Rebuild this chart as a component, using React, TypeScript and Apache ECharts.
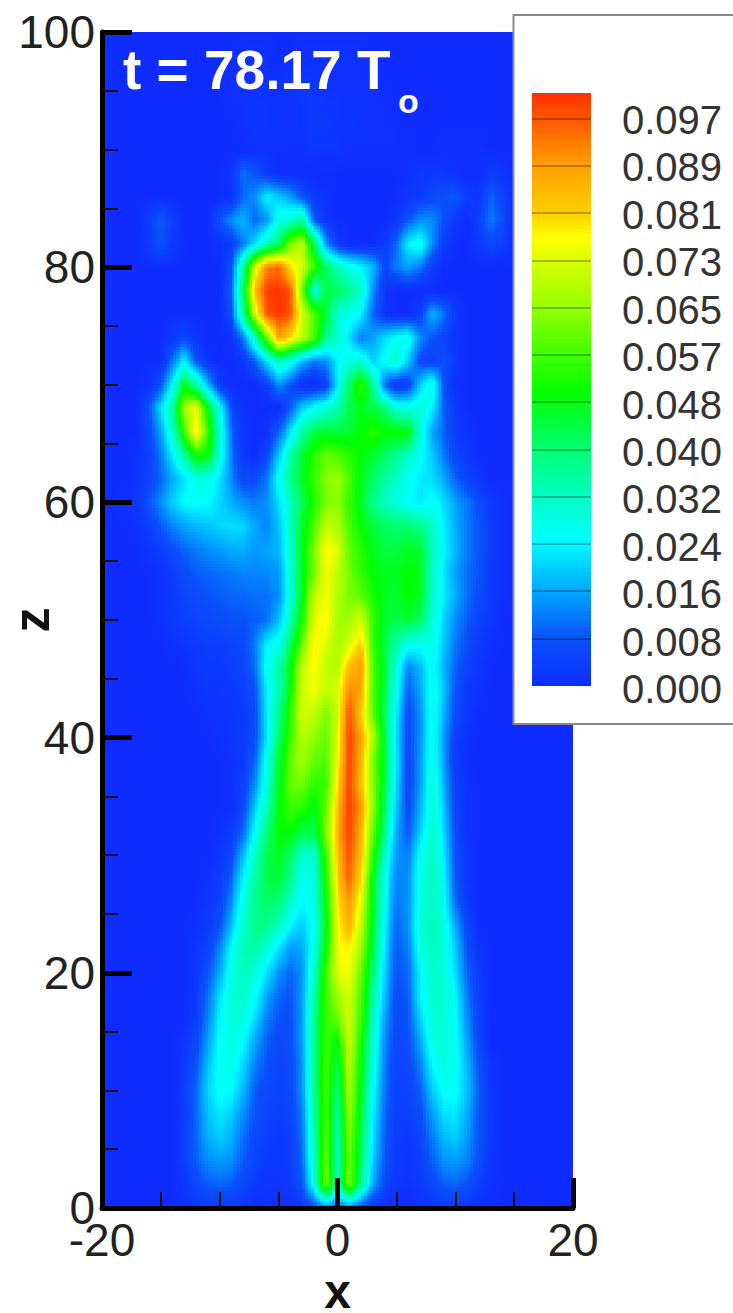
import React, { useEffect, useRef } from "react";
import * as echarts from "echarts";

const FONT = '"Liberation Sans", Arial, sans-serif';

// Vertical grid levels of the field (top to bottom)
const zLevels = [100,98,96,94,92,90,88,86,84,82,80,78,76,74,72,70,68,66,64,62,60,58,56,54,52,50,48,46,44,42,40,38,36,34,32,30,28,26,24,22,20,18,16,14,12,10,8,6,4,2,0];
// x of the first stored value of each row (values step by 1 in x, the rest of the row is 0)
const rowStarts = [-20,-8,-9,-9,-8,-7,-9,-9,-16,-16,-9,-9,-9,-14,-14,-16,-16,-16,-17,-17,-18,-17,-16,-15,-15,-15,-14,-12,-12,-11,-10,-9,-9,-9,-10,-10,-11,-11,-12,-12,-12,-12,-12,-13,-13,-13,-13,-13,-13,-13,-13];
// Field values in thousandths
const fieldRows = [
  [],
  [1,1,1,0,0,1,1,1,1,1,1],
  [1,1,1,1,1,2,2,2,1,1,1,1,1],
  [1,1,2,2,1,1,2,3,2,2,1,1,1,1],
  [1,2,2,1,1,2,3,3,2,2,1,1,1,1],
  [1,1,1,1,1,2,2,2,1,1,1,1,1,1,0,0,1,1,1,1],
  [2,11,8,3,0,0,0,0,0,0,0,0,0,0,0,1,2,3,2,1,0,1,3,2],
  [1,10,14,24,20,16,8,3,1,0,0,0,0,0,0,2,3,6,8,9,4,2,10,6,1],
  [4,9,4,0,0,0,8,14,18,10,15,28,30,36,9,2,0,0,0,0,0,2,8,14,14,8,3,0,5,12,8],
  [3,8,3,0,0,0,1,4,12,22,33,42,62,70,44,15,3,0,0,0,3,10,24,28,14,4,0,0,3,6,4],
  [8,35,72,92,95,80,72,56,42,33,28,24,18,6,12,16,12,4],
  [10,42,85,100,101,98,62,28,44,43,38,32,14,2],
  [8,36,72,98,101,98,72,58,46,30,28,24,10,2,0,0,4,18,12,3],
  [3,6,2,0,0,1,12,32,60,88,80,70,58,38,32,22,12,16,22,26,28,14,8,5,2],
  [12,24,8,1,0,0,2,10,22,34,28,18,12,14,24,28,30,20,26,32,20,6,4,8,3],
  [1,8,26,48,36,18,3,0,0,0,4,14,8,1,0,4,24,42,55,38,10,2,4,20,30,8,1],
  [8,22,38,66,76,48,26,6,1,0,0,0,8,20,26,30,34,44,48,44,40,30,28,30,24,10,3],
  [6,16,32,56,80,56,30,10,2,0,1,10,22,36,44,46,45,46,50,54,50,50,50,30,16,10,4,1],
  [1,4,12,24,36,52,50,28,12,3,0,6,20,34,46,54,60,58,54,50,46,42,38,32,26,20,12,6,3],
  [2,5,10,17,22,28,28,22,13,6,7,12,27,38,46,56,63,66,58,48,42,36,32,27,23,22,17,10,5,2],
  [1,3,8,14,21,25,26,25,21,17,14,12,14,22,32,43,53,62,64,56,47,38,32,29,25,23,26,22,16,12,7,3,1],
  [1,4,9,13,16,18,19,21,22,21,16,13,19,32,46,58,70,68,58,50,45,42,41,41,38,32,24,17,12,8,4,1],
  [2,4,7,10,12,14,15,17,17,15,16,18,30,48,62,78,74,60,54,48,44,45,47,46,34,25,18,12,8,4,1],
  [1,4,7,9,10,11,12,13,13,13,15,30,47,62,76,70,62,55,50,48,48,50,48,32,23,16,11,8,3,1],
  [1,3,5,7,8,9,10,10,11,11,14,29,48,70,76,68,62,60,52,47,46,50,48,32,24,17,11,7,3,1],
  [1,3,4,5,6,7,8,8,9,11,19,33,52,74,78,66,66,72,56,46,44,46,42,30,21,14,9,5,2],
  [1,2,3,4,4,5,6,12,24,27,42,60,78,74,66,72,82,56,44,36,28,27,28,20,12,7,3,1],
  [2,3,3,4,5,11,27,35,48,70,78,70,68,84,90,58,46,30,13,18,27,18,10,5,2],
  [1,2,2,3,4,8,24,34,50,72,76,70,72,92,88,58,44,28,9,16,28,20,8,3,1],
  [1,2,2,3,6,24,38,54,72,70,62,72,98,82,60,42,24,6,14,28,18,7,2],
  [1,2,3,7,23,42,56,68,64,60,74,100,88,68,44,22,6,14,28,16,5,1],
  [1,3,10,28,46,60,66,60,58,76,100,86,62,46,24,5,15,29,16,4],
  [1,4,14,30,48,60,62,54,56,80,100,84,64,44,22,5,15,30,18,5,1],
  [1,6,20,34,50,56,54,48,60,84,100,90,64,42,20,6,17,30,20,6,1],
  [1,3,10,26,40,50,50,44,44,62,86,100,86,60,38,17,8,20,32,22,7,1],
  [2,6,18,32,44,47,42,32,30,56,84,98,84,54,32,15,12,26,33,24,8,2],
  [1,4,10,24,36,44,45,38,27,28,52,82,96,80,48,27,13,14,28,34,26,9,2],
  [2,5,14,28,38,42,40,32,24,28,50,78,90,74,48,26,12,14,28,33,27,11,3],
  [1,3,8,19,31,39,38,32,24,20,26,48,76,86,70,46,24,10,14,30,34,30,17,6],
  [2,5,13,26,34,35,30,22,15,16,28,50,76,78,66,44,22,9,12,28,33,30,20,8,2],
  [3,8,17,29,33,30,22,14,10,14,32,56,74,76,60,40,20,8,10,24,32,30,22,10,3],
  [3,11,22,30,32,26,16,10,8,15,36,56,66,72,58,36,18,7,9,24,31,31,25,12,4],
  [4,13,25,30,29,21,12,8,7,15,38,56,60,72,56,32,15,7,8,20,30,31,26,14,5],
  [2,6,16,26,29,25,16,9,6,7,15,38,56,48,72,52,30,13,6,7,16,28,30,27,16,6],
  [3,8,19,27,27,21,12,8,5,6,14,38,58,42,70,50,28,12,5,6,12,24,29,27,18,8,2],
  [4,10,21,26,25,18,9,6,5,6,14,38,58,38,68,48,26,11,5,5,9,20,26,26,19,9,2],
  [3,10,19,23,20,14,8,5,4,5,12,36,58,34,66,46,24,10,4,4,7,15,22,23,17,8,3],
  [4,10,17,20,17,11,6,4,3,4,11,34,60,32,64,44,22,9,4,3,5,12,18,20,15,8,3],
  [4,9,14,15,14,9,5,3,3,4,10,32,62,30,62,42,20,8,3,2,4,9,14,15,13,7,2],
  [2,6,9,10,9,6,3,2,2,3,8,28,64,30,64,38,16,6,2,1,3,6,9,10,8,4,1],
  [1,2,3,3,3,2,1,1,1,1,2,6,12,8,12,6,2,1,0,0,1,2,3,3,2,1],
];

// Colour legend
const legendLabels = ["0.000","0.008","0.016","0.024","0.032","0.040","0.048","0.057","0.065","0.073","0.081","0.089","0.097"];
const legendLevels = [0,8.1,16.2,24.3,32.4,40.5,48.6,56.7,64.8,72.9,81,89.1,97.2,101.6];
// Colour stops: value (thousandths) and RGB
const stopValues = [0,8,16,25,32,40,50,57,65,73,77,81,89,97,101.6];
const stopColors = [[14,44,255],[10,80,250],[0,165,255],[0,255,255],[0,255,200],[0,255,120],[0,255,0],[64,255,0],[152,255,0],[216,255,0],[255,255,0],[255,208,0],[255,160,0],[255,88,0],[255,48,0]];

function colorOf(v: number): string {
  let i = 0;
  while (i < stopValues.length - 2 && v > stopValues[i + 1]) i++;
  const t = Math.min(1, Math.max(0, (v - stopValues[i]) / (stopValues[i + 1] - stopValues[i])));
  const a = stopColors[i], b = stopColors[i + 1];
  const c = [0, 1, 2].map((k) => Math.round(a[k] + (b[k] - a[k]) * t));
  return `rgb(${c[0]},${c[1]},${c[2]})`;
}

function fieldAt(row: number, x: number): number {
  const k = x - rowStarts[row];
  const vals = fieldRows[row];
  return k >= 0 && k < vals.length ? vals[k] : 0;
}

// one cell per pair of neighbouring grid nodes: [x0, zTop, topLeft, topRight, bottomLeft, bottomRight]
const cells: number[][] = [];
for (let r = 0; r < zLevels.length - 1; r++) {
  for (let x = -20; x < 20; x++) {
    const a = fieldAt(r, x), b = fieldAt(r, x + 1), c = fieldAt(r + 1, x), d = fieldAt(r + 1, x + 1);
    if (a + b + c + d > 0) cells.push([x, zLevels[r], a, b, c, d, zLevels[r + 1]]);
  }
}

const NX = 4;
const NZ = 8;

function renderCell(params: any, api: any) {
  const x0 = api.value(0), zt = api.value(1);
  const a = api.value(2), b = api.value(3), c = api.value(4), d = api.value(5), zb = api.value(6);
  const p0 = api.coord([x0, zt]);
  const p1 = api.coord([x0 + 1, zb]);
  const children: any[] = [];
  for (let j = 0; j < NZ; j++) {
    const tz = (j + 0.5) / NZ;
    const y0 = Math.round(p0[1] + ((p1[1] - p0[1]) * j) / NZ);
    const y1 = Math.round(p0[1] + ((p1[1] - p0[1]) * (j + 1)) / NZ);
    for (let i = 0; i < NX; i++) {
      const tx = (i + 0.5) / NX;
      const v = (a * (1 - tx) + b * tx) * (1 - tz) + (c * (1 - tx) + d * tx) * tz;
      const x1 = Math.round(p0[0] + ((p1[0] - p0[0]) * i) / NX);
      const x2 = Math.round(p0[0] + ((p1[0] - p0[0]) * (i + 1)) / NX);
      children.push({
        type: "rect",
        shape: { x: x1, y: y0, width: x2 - x1, height: y1 - y0 },
        style: { fill: colorOf(v) },
        silent: true,
      });
    }
  }
  return { type: "group", children };
}

const legendBands = legendLevels.slice(0, -1).map((v, i) => [v, legendLevels[i + 1]]);

function renderBand(params: any, api: any) {
  const lo = api.value(0), hi = api.value(1);
  const pb = api.coord([0, lo]);
  const pt = api.coord([1, hi]);
  const children: any[] = [];
  const steps = 12;
  for (let k = 0; k < steps; k++) {
    const y1 = Math.round(pb[1] + ((pt[1] - pb[1]) * k) / steps);
    const y2 = Math.round(pb[1] + ((pt[1] - pb[1]) * (k + 1)) / steps);
    children.push({
      type: "rect",
      shape: { x: pb[0], y: y2, width: pt[0] - pb[0], height: y1 - y2 },
      style: { fill: colorOf(lo + ((hi - lo) * (k + 0.5)) / steps) },
    });
  }
  if (lo > 0) {
    children.push({
      type: "line",
      shape: { x1: pb[0], y1: Math.round(pb[1]), x2: pt[0], y2: Math.round(pb[1]) },
      style: { stroke: "rgba(0,0,0,0.35)", lineWidth: 1.5 },
    });
  }
  return { type: "group", children };
}

export default function App() {
  const ref = useRef<HTMLDivElement>(null);
  useEffect(() => {
    const chart = echarts.init(ref.current!, undefined, { renderer: "svg" });
    const labelStyle = { fontFamily: FONT, fontSize: 46, color: "#222" };
    chart.setOption({
      animation: false,
      backgroundColor: "#fff",
      grid: [
        { left: 102, top: 32, width: 471, height: 1176, show: true, backgroundColor: "rgb(14,44,255)", borderWidth: 0, outerBoundsMode: "none" },
        { left: 532, top: 93, width: 59, height: 593, outerBoundsMode: "none" },
        { left: 532, top: 120, width: 59, height: 569, outerBoundsMode: "none" },
      ],
      xAxis: [
        {
          gridIndex: 0, type: "value", min: -20, max: 20, interval: 20, z: 3,
          name: "x", nameLocation: "middle", nameGap: 65, nameMoveOverlap: false,
          nameTextStyle: { fontFamily: FONT, fontSize: 48, fontWeight: "bold", color: "#111", lineHeight: 36, verticalAlign: "top" },
          axisLine: { show: true, onZero: false, lineStyle: { color: "#000", width: 5 } },
          axisTick: { show: true, inside: true, length: 30, lineStyle: { color: "#000", width: 5 } },
          minorTick: { show: true, splitNumber: 4, length: 16, lineStyle: { color: "#111", width: 2 } },
          splitLine: { show: false },
          axisLabel: { ...labelStyle, margin: 9, hideOverlap: false },
        },
        { gridIndex: 1, type: "value", min: 0, max: 1, show: false },
        { gridIndex: 2, type: "value", min: 0, max: 1, show: false },
      ],
      yAxis: [
        {
          gridIndex: 0, type: "value", min: 0, max: 100, interval: 20, z: 3,
          name: "z", nameLocation: "middle", nameGap: 50, nameMoveOverlap: false,
          nameTextStyle: { fontFamily: FONT, fontSize: 50, fontWeight: "bold", color: "#111", lineHeight: 40 },
          axisLine: { show: true, onZero: false, lineStyle: { color: "#000", width: 5 } },
          axisTick: { show: true, inside: true, length: 30, lineStyle: { color: "#000", width: 5 } },
          minorTick: { show: true, splitNumber: 4, length: 16, lineStyle: { color: "#111", width: 2 } },
          splitLine: { show: false },
          axisLabel: { ...labelStyle, margin: 7, hideOverlap: false },
        },
        { gridIndex: 1, type: "value", min: 0, max: 101.6, show: false },
        {
          gridIndex: 2, type: "category", data: legendLabels, boundaryGap: false, position: "right", z: 12,
          axisLine: { show: false },
          axisTick: { show: false },
          axisLabel: { fontFamily: FONT, fontSize: 40, color: "#333", margin: 31, interval: 0, hideOverlap: false },
        },
      ],
      series: [
        {
          type: "custom", coordinateSystem: "cartesian2d", xAxisIndex: 0, yAxisIndex: 0, z: 2, silent: true,
          data: cells, renderItem: renderCell, encode: { x: 0, y: 1 }, progressive: 0, clip: true,
        },
        {
          type: "custom", coordinateSystem: "cartesian2d", xAxisIndex: 1, yAxisIndex: 1, z: 12, silent: true,
          data: legendBands, renderItem: renderBand, encode: { y: [0, 1] },
        },
      ],
      graphic: {
        elements: [
          {
            type: "text", left: 123, top: 42, z: 6, silent: true,
            style: { text: "t = 78.17 T", fontFamily: FONT, fontSize: 55, fontWeight: "bold", fill: "#fff" },
          },
          {
            type: "text", left: 398, top: 84, z: 6, silent: true,
            style: { text: "o", fontFamily: FONT, fontSize: 34, fontWeight: "bold", fill: "#fff" },
          },
          {
            type: "rect", z: 10, silent: true,
            shape: { x: 513.5, y: 15, width: 260, height: 709 },
            style: { fill: "#fff", stroke: "#8a8a8a", lineWidth: 2 },
          },
        ],
      },
    });
    return () => chart.dispose();
  }, []);
  return <div ref={ref} style={{ position: "absolute", left: 0, top: 0, width: 733, height: 1313 }} />;
}
